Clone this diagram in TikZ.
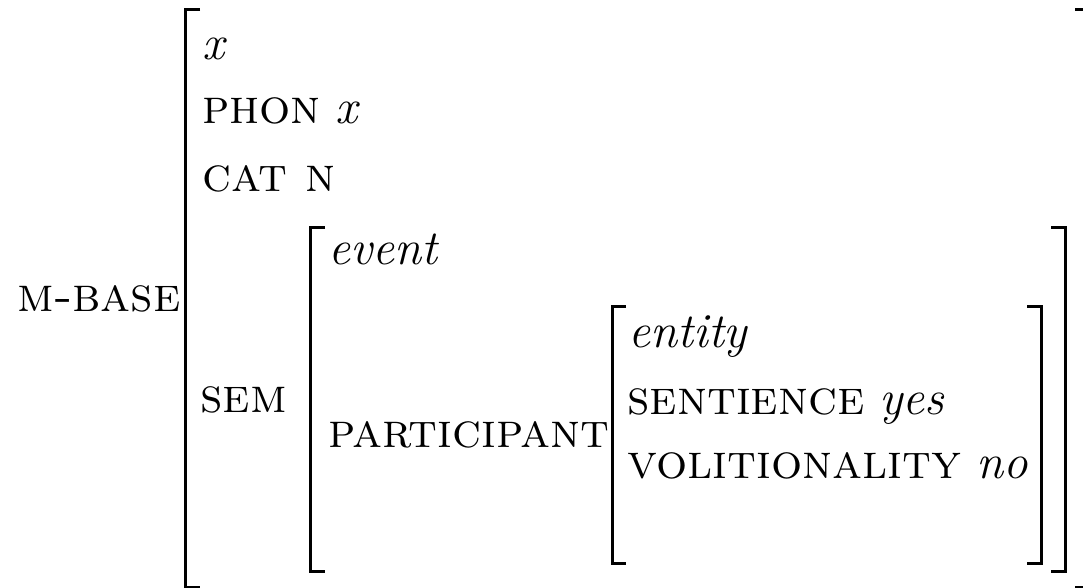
\documentclass[tikz,border=0pt]{standalone}
\usepackage{fontspec}
\begin{document}
\begin{tikzpicture}[
		x=0.5pt, y=-0.5pt,
		every node/.style={inner sep=0pt, anchor=base west, font=\fontsize{24.5}{29}\selectfont},
		bracket/.style={line width=1.5pt}
		]
		\useasboundingbox (0,0) rectangle (1083,588);
		% Outer matrix
		\node (mbase) at (17,312) {\textsc{m-base}};
		\node (typex) at (202,60) {\textit{x}};
		\node (phon) at (202,124) {\textsc{phon} \textit{x}};
		\node (cat) at (202,192) {\textsc{cat n}};
		\node (sem) at (200,413) {\textsc{sem}};
		\draw[bracket] (200,10) -- (185,10) -- (185,587) -- (200,587);
		\draw[bracket] (1075,10) -- (1086,10) -- (1086,587) -- (1075,587);
		% SEM value
		\node (event) at (328,265) {\textit{event}};
		\node (part) at (328,448) {\textsc{participant}};
		\draw[bracket] (325,228) -- (310,228) -- (310,571) -- (325,571);
		\draw[bracket] (1051,228) -- (1065,228) -- (1065,571) -- (1051,571);
		% PARTICIPANT value
		\node (entity) at (628,348) {\textit{entity}};
		\node (sent) at (627,415) {\textsc{sentience} \textit{yes}};
		\node (vol) at (627,479) {\textsc{volitionality} \textit{no}};
		\draw[bracket] (626,307) -- (612,307) -- (612,563) -- (626,563);
		\draw[bracket] (1027,307) -- (1041,307) -- (1041,563) -- (1027,563);
	\end{tikzpicture}
\end{document}
